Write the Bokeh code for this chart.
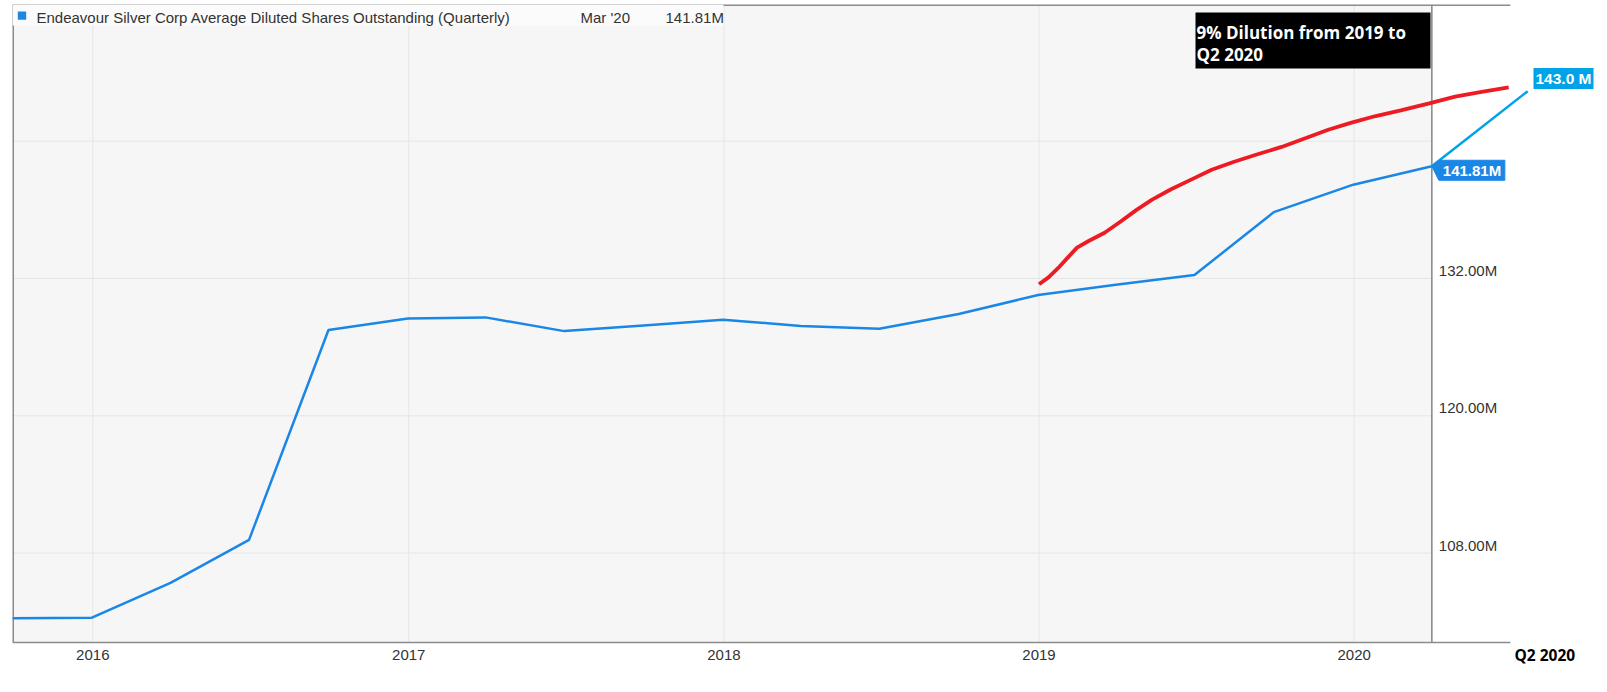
import pandas as pd
from bokeh.plotting import figure
from bokeh.models import Range1d, Label, BoxAnnotation
from bokeh.core.properties import value
from bokeh.embed import file_html
from bokeh.resources import INLINE

# ---------------- data ----------------
BLUE_DATES = ["2015-09-30", "2015-12-31", "2016-03-31", "2016-06-30", "2016-09-30",
              "2016-12-31", "2017-03-31", "2017-06-30", "2017-09-30", "2017-12-31",
              "2018-03-31", "2018-06-30", "2018-09-30", "2018-12-31", "2019-03-31",
              "2019-06-30", "2019-09-30", "2019-12-31", "2020-03-31"]
BLUE_VALUES = [102.3, 102.35, 105.4, 109.15, 127.5,
               128.5, 128.6, 127.4, 127.9, 128.4,
               127.85, 127.6, 128.9, 130.55, 131.45,
               132.3, 137.8, 140.2, 141.81]

RED_DATES = ["2019-01-01", "2019-01-12", "2019-01-23", "2019-02-03", "2019-02-14",
             "2019-02-28", "2019-03-18", "2019-04-06", "2019-04-24", "2019-05-12",
             "2019-06-03", "2019-06-25", "2019-07-20", "2019-08-15", "2019-09-13",
             "2019-10-09", "2019-11-07", "2019-12-02", "2019-12-28", "2020-01-26",
             "2020-02-24", "2020-03-28", "2020-04-27", "2020-05-26", "2020-06-28"]
RED_VALUES = [131.5, 132.1, 132.9, 133.8, 134.7,
              135.3, 136.0, 137.0, 138.0, 138.9,
              139.8, 140.6, 141.5, 142.2, 142.9,
              143.5, 144.3, 145.0, 145.6, 146.2,
              146.7, 147.3, 147.9, 148.3, 148.7]

YEAR_TICKS = ["2016-01-01", "2017-01-01", "2018-01-01", "2019-01-01", "2020-01-01"]
YEAR_LABELS = ["2016", "2017", "2018", "2019", "2020"]
Y_GRID = [108, 120, 132, 144]
Y_TICKS = [108, 120, 132]
Y_LABELS = ["108.00M", "120.00M", "132.00M"]

SERIES_NAME = "Endeavour Silver Corp Average Diluted Shares Outstanding (Quarterly)"
LAST_PERIOD = "Mar '20"
PROJECTION_TEXT = "143.0 M"
PROJECTION_END = ("2020-07-20", 148.37)
NOTE_LINES = ["9% Dilution from 2019 to", "Q2 2020"]
PERIOD_LABEL = "Q2 2020"
Q2_END = "2020-06-30"

# ---------------- layout ----------------
BLUE = "#1a87e6"
RED = "#ed1c24"
CYAN = "#00a2e8"
BORDER = "#8c8c8c"
GRID = "#e6e6e6"
TEXT = "#333333"

W, H = 1604, 688
FL, FT = 12, 4           # frame offsets inside canvas
X_END = "2020-10-17"
Y_END = 155.95           # value at frame top
PX_M = 11.44             # pixels per million
AXIS_Y = 100.18          # value where the x axis line sits


def ms(d):
    return pd.Timestamp(d).value / 1e6


X0 = ms(BLUE_DATES[0])
X1 = ms(X_END)
FW = W - FL
FH = H - FT
Y_START = Y_END - FH / PX_M
PX_MS = FW / (X1 - X0)


def xpx(page_x):
    return X0 + (page_x - FL) / PX_MS


def ypx(page_y):
    return Y_END - (page_y - FT) / PX_M


def dxp(px):
    return px / PX_MS


def dyp(px):
    return px / PX_M


p = figure(width=W, height=H, x_range=Range1d(X0, X1), y_range=Range1d(Y_START, Y_END),
           x_axis_location=None, y_axis_location=None, toolbar_location=None,
           output_backend="svg", min_border_left=FL, min_border_right=0,
           min_border_top=FT, min_border_bottom=0)
p.outline_line_color = None
p.background_fill_color = "white"
p.border_fill_color = "white"
p.xgrid.visible = False
p.ygrid.visible = False

year_ms = [ms(t) for t in YEAR_TICKS]
last_ms = ms(BLUE_DATES[-1])
q2_ms = ms(Q2_END)

# plot background (only up to the last data point)
p.add_layout(BoxAnnotation(right=last_ms, bottom=AXIS_Y, fill_color="#f6f6f6", fill_alpha=1,
                           line_alpha=0, level="underlay"))

# grid lines
p.segment(x0=year_ms, x1=year_ms, y0=AXIS_Y, y1=Y_END, line_color=GRID, line_width=1)
p.segment(x0=X0, x1=last_ms, y0=Y_GRID, y1=Y_GRID, line_color=GRID, line_width=1)

# borders
p.segment(x0=[X0], x1=[X0], y0=[AXIS_Y], y1=[Y_END], line_color=BORDER, line_width=3)
p.segment(x0=[X0], x1=[q2_ms], y0=[Y_END], y1=[Y_END], line_color=BORDER, line_width=3)
p.segment(x0=[X0], x1=[q2_ms], y0=[AXIS_Y], y1=[AXIS_Y], line_color=BORDER, line_width=1.6)
p.segment(x0=[last_ms], x1=[last_ms], y0=[AXIS_Y], y1=[Y_END], line_color=BORDER, line_width=1.6)

# x tick labels
p.text(x=year_ms, y=[AXIS_Y] * len(year_ms), text=YEAR_LABELS, y_offset=12,
       text_baseline="middle", text_align="center", text_font=value("Liberation Sans"),
       text_font_size="15px", text_color=TEXT)

# y tick labels
p.text(x=[last_ms] * len(Y_TICKS), y=Y_TICKS, text=Y_LABELS, x_offset=7, y_offset=-8,
       text_baseline="middle", text_align="left", text_font=value("Liberation Sans"),
       text_font_size="15px", text_color=TEXT)

# series
p.line(x=[ms(d) for d in BLUE_DATES], y=BLUE_VALUES, line_color=BLUE, line_width=2.5)
p.line(x=[ms(d) for d in RED_DATES], y=RED_VALUES, line_color=RED, line_width=3.8)
p.line(x=[last_ms, ms(PROJECTION_END[0])], y=[BLUE_VALUES[-1], PROJECTION_END[1]],
       line_color=CYAN, line_width=2.5)

# flag label for the last value
fx = [0, 7, 73, 73, 7]
fy = [0, -6, -6, 14, 14]
p.patch(x=[last_ms + dxp(a) for a in fx], y=[BLUE_VALUES[-1] - dyp(b) for b in fy],
        fill_color=BLUE, line_color=BLUE)
p.add_layout(Label(x=last_ms + dxp(11), y=BLUE_VALUES[-1] - dyp(4), text=f"{BLUE_VALUES[-1]:.2f}M",
                   text_baseline="middle", text_font="Liberation Sans", text_font_style="bold",
                   text_font_size="15px", text_color="white"))

# legend strip
p.add_layout(BoxAnnotation(right=xpx(723), bottom=ypx(25), fill_color="#fbfbfb",
                           fill_alpha=1, line_alpha=0))
p.add_layout(BoxAnnotation(left=xpx(17.3), right=xpx(25.7), top=ypx(11), bottom=ypx(19.3),
                           fill_color=BLUE, fill_alpha=1, line_alpha=0))
for txt, px in [(SERIES_NAME, 36), (LAST_PERIOD, 580), (f"{BLUE_VALUES[-1]:.2f}M", 665)]:
    p.add_layout(Label(x=xpx(px), y=ypx(16.5), text=txt, text_baseline="middle",
                       text_font="Liberation Sans", text_font_size="15px",
                       text_color=TEXT))

# note box
p.add_layout(BoxAnnotation(left=xpx(1195), right=xpx(1430), top=ypx(12), bottom=ypx(68),
                           fill_color="black", fill_alpha=1, line_alpha=0))
for txt, py in zip(NOTE_LINES, [31.7, 54.3]):
    p.add_layout(Label(x=xpx(1196), y=ypx(py), text=txt, text_baseline="alphabetic",
                       text_font="Open Sans", text_font_style="bold",
                       text_font_size="17px", text_color="white"))

# projection label
p.add_layout(Label(x=xpx(1533), y=ypx(78), text=PROJECTION_TEXT, text_baseline="middle",
                   text_font="Liberation Sans", text_font_style="bold", text_font_size="15.5px",
                   text_color="white", background_fill_color=CYAN, background_fill_alpha=1,
                   padding=2))

# period label at the end of the axis
p.add_layout(Label(x=xpx(1514), y=ypx(654), text=PERIOD_LABEL, text_baseline="middle",
                   text_font="Open Sans", text_font_style="bold", text_font_size="15.5px",
                   text_color="black"))

open("out.html", "w").write(file_html(p, INLINE))
